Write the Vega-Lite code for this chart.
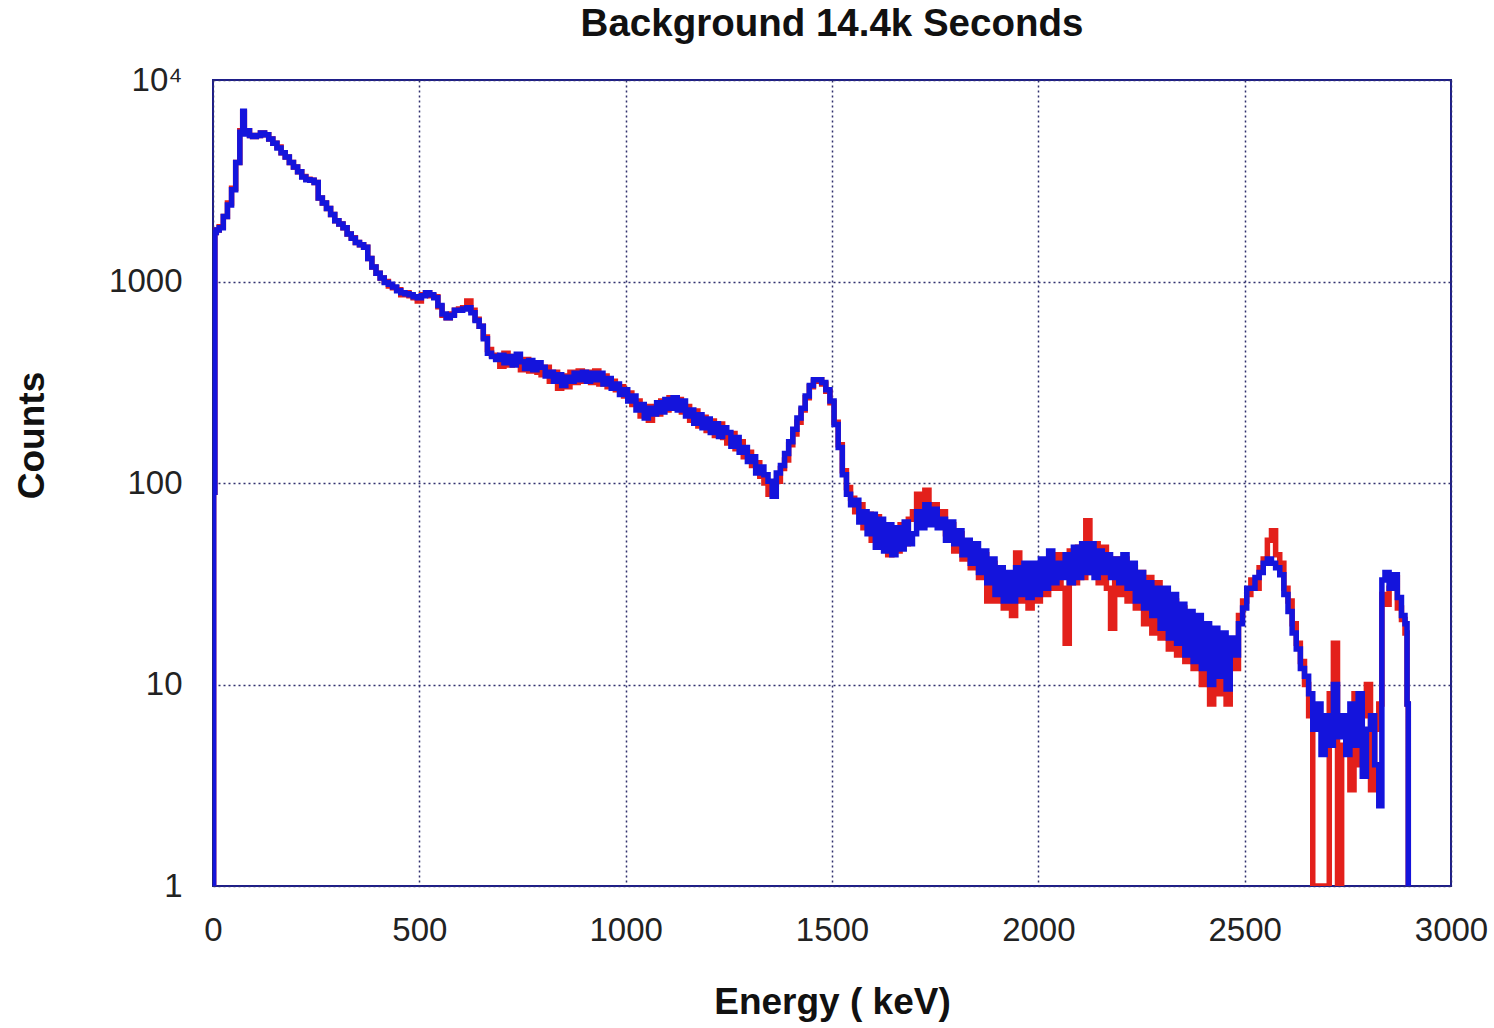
{
  "$schema": "https://vega.github.io/schema/vega-lite/v6.json",
  "width": 1238,
  "height": 806,
  "autosize": {"type": "none"},
  "padding": {"left": 213, "top": 80, "right": 43, "bottom": 142},
  "background": "white",
  "config": {
    "view": {"stroke": "#1c1c8c", "strokeWidth": 2},
    "font": "Liberation Sans"
  },
  "title": {
    "text": "Background 14.4k Seconds",
    "font": "Liberation Sans",
    "fontSize": 38.5,
    "fontWeight": "bold",
    "color": "#111",
    "anchor": "middle",
    "offset": 20
  },
  "data": {"values": [
    {"e":0,"r":1,"b":1},{"e":3,"r":90,"b":90},{"e":6,"r":1750,"b":1750},{"e":10,"r":1800,"b":1800},
    {"e":20,"r":1870,"b":1850},{"e":30,"r":2100,"b":2100},{"e":40,"r":2450,"b":2400},{"e":50,"r":2900,"b":2850},
    {"e":60,"r":3900,"b":3900},{"e":70,"r":5600,"b":5500},{"e":74,"r":6900,"b":7000},{"e":78,"r":5500,"b":5400},
    {"e":85,"r":5600,"b":5600},{"e":92,"r":5300,"b":5300},{"e":100,"r":5250,"b":5250},{"e":110,"r":5300,"b":5300},
    {"e":120,"r":5450,"b":5450},{"e":130,"r":5350,"b":5350},{"e":140,"r":5100,"b":5100},{"e":150,"r":4850,"b":4850},
    {"e":160,"r":4650,"b":4600},{"e":170,"r":4350,"b":4350},{"e":180,"r":4150,"b":4150},{"e":190,"r":3900,"b":3900},
    {"e":200,"r":3700,"b":3700},{"e":210,"r":3500,"b":3500},{"e":220,"r":3320,"b":3300},{"e":230,"r":3220,"b":3200},
    {"e":240,"r":3180,"b":3180},{"e":250,"r":3100,"b":3100},{"e":260,"r":2600,"b":2600},{"e":270,"r":2450,"b":2450},
    {"e":280,"r":2300,"b":2300},{"e":290,"r":2150,"b":2150},{"e":300,"r":2000,"b":2000},{"e":310,"r":1930,"b":1930},
    {"e":320,"r":1850,"b":1850},{"e":330,"r":1720,"b":1720},{"e":340,"r":1650,"b":1640},{"e":350,"r":1560,"b":1560},
    {"e":360,"r":1520,"b":1520},{"e":370,"r":1480,"b":1480},{"e":380,"r":1300,"b":1300},{"e":390,"r":1180,"b":1180},
    {"e":400,"r":1100,"b":1100},{"e":410,"r":1040,"b":1040},{"e":420,"r":1000,"b":990},{"e":430,"r":950,"b":970},
    {"e":440,"r":930,"b":940},{"e":450,"r":910,"b":900},{"e":460,"r":860,"b":880},{"e":470,"r":880,"b":870},
    {"e":480,"r":850,"b":860},{"e":490,"r":830,"b":840},{"e":500,"r":800,"b":830},{"e":510,"r":860,"b":850},
    {"e":520,"r":880,"b":880},{"e":530,"r":850,"b":860},{"e":540,"r":840,"b":830},{"e":550,"r":750,"b":760},
    {"e":560,"r":680,"b":690},{"e":570,"r":660,"b":660},{"e":580,"r":690,"b":680},{"e":590,"r":720,"b":720},
    {"e":600,"r":730,"b":720},{"e":610,"r":740,"b":730},{"e":620,"r":800,"b":740},{"e":630,"r":720,"b":700},
    {"e":640,"r":650,"b":640},{"e":650,"r":600,"b":600},{"e":660,"r":530,"b":520},{"e":670,"r":460,"b":440},
    {"e":680,"r":430,"b":425},{"e":690,"r":415,"b":410},
    {"e":700,"r":380,"b":430},{"e":710,"r":440,"b":395},{"e":720,"r":385,"b":425},{"e":730,"r":425,"b":385},
    {"e":740,"r":400,"b":435},{"e":750,"r":365,"b":400},{"e":760,"r":410,"b":370},{"e":770,"r":360,"b":405},
    {"e":780,"r":395,"b":365},{"e":790,"r":355,"b":395},{"e":800,"r":345,"b":375},{"e":810,"r":375,"b":340},
    {"e":820,"r":320,"b":355},{"e":830,"r":355,"b":320},{"e":840,"r":295,"b":345},{"e":850,"r":340,"b":305},
    {"e":860,"r":300,"b":335},{"e":870,"r":355,"b":320},{"e":880,"r":315,"b":350},{"e":890,"r":360,"b":325},
    {"e":900,"r":320,"b":355},{"e":910,"r":355,"b":320},{"e":920,"r":315,"b":350},{"e":930,"r":360,"b":325},
    {"e":940,"r":310,"b":350},{"e":950,"r":340,"b":310},{"e":960,"r":300,"b":330},{"e":970,"r":320,"b":295},
    {"e":980,"r":290,"b":310},{"e":990,"r":300,"b":275},{"e":1000,"r":270,"b":290},{"e":1010,"r":280,"b":255},
    {"e":1020,"r":245,"b":270},{"e":1030,"r":255,"b":230},{"e":1040,"r":215,"b":245},{"e":1050,"r":240,"b":210},
    {"e":1060,"r":205,"b":235},{"e":1070,"r":240,"b":220},{"e":1080,"r":220,"b":250},{"e":1090,"r":255,"b":225},
    {"e":1100,"r":230,"b":260},{"e":1110,"r":265,"b":235},{"e":1120,"r":240,"b":265},{"e":1130,"r":260,"b":230},
    {"e":1140,"r":225,"b":255},{"e":1150,"r":240,"b":215},{"e":1160,"r":205,"b":230},{"e":1170,"r":228,"b":198},
    {"e":1180,"r":192,"b":218},{"e":1190,"r":212,"b":188},{"e":1200,"r":182,"b":208},{"e":1210,"r":203,"b":178},
    {"e":1220,"r":172,"b":197},{"e":1230,"r":196,"b":170},{"e":1240,"r":168,"b":188},{"e":1250,"r":158,"b":178},
    {"e":1260,"r":176,"b":152},{"e":1270,"r":148,"b":168},{"e":1280,"r":160,"b":142},{"e":1290,"r":135,"b":150},
    {"e":1300,"r":142,"b":128},{"e":1310,"r":122,"b":135},{"e":1320,"r":126,"b":112},{"e":1330,"r":108,"b":120},
    {"e":1340,"r":100,"b":110},{"e":1350,"r":88,"b":102},{"e":1360,"r":98,"b":86},{"e":1370,"r":102,"b":112},
    {"e":1380,"r":118,"b":122},{"e":1390,"r":130,"b":140},
    {"e":1400,"r":155,"b":160},{"e":1410,"r":175,"b":185},{"e":1420,"r":200,"b":210},{"e":1430,"r":230,"b":235},
    {"e":1440,"r":265,"b":270},{"e":1450,"r":300,"b":305},{"e":1460,"r":320,"b":325},{"e":1470,"r":325,"b":325},
    {"e":1480,"r":310,"b":315},{"e":1490,"r":285,"b":290},{"e":1500,"r":250,"b":255},{"e":1510,"r":200,"b":195},
    {"e":1520,"r":155,"b":150},{"e":1530,"r":115,"b":110},{"e":1540,"r":95,"b":88},{"e":1550,"r":84,"b":78},
    {"e":1560,"r":72,"b":82},{"e":1570,"r":78,"b":64},{"e":1580,"r":60,"b":72},{"e":1590,"r":70,"b":56},
    {"e":1600,"r":52,"b":70},{"e":1610,"r":68,"b":48},{"e":1620,"r":50,"b":66},{"e":1630,"r":62,"b":46},
    {"e":1640,"r":44,"b":62},{"e":1650,"r":58,"b":44},{"e":1660,"r":46,"b":60},{"e":1670,"r":62,"b":47},
    {"e":1680,"r":50,"b":64},{"e":1690,"r":66,"b":50},{"e":1700,"r":72,"b":56},{"e":1710,"r":88,"b":72},
    {"e":1720,"r":62,"b":60},{"e":1730,"r":92,"b":78},{"e":1740,"r":70,"b":62},{"e":1750,"r":78,"b":74},
    {"e":1760,"r":64,"b":60},{"e":1770,"r":72,"b":66},{"e":1780,"r":56,"b":52},{"e":1790,"r":62,"b":64},
    {"e":1800,"r":46,"b":50},{"e":1810,"r":56,"b":58},{"e":1820,"r":42,"b":44},{"e":1830,"r":50,"b":52},
    {"e":1840,"r":38,"b":40},{"e":1850,"r":46,"b":50},{"e":1860,"r":34,"b":36},{"e":1870,"r":44,"b":46},
    {"e":1880,"r":26,"b":32},{"e":1890,"r":40,"b":42},{"e":1900,"r":26,"b":28},{"e":1910,"r":36,"b":38},
    {"e":1920,"r":24,"b":26},{"e":1930,"r":34,"b":36},{"e":1940,"r":22,"b":26},{"e":1950,"r":45,"b":38},
    {"e":1960,"r":26,"b":28},{"e":1970,"r":38,"b":40},{"e":1980,"r":24,"b":27},{"e":1990,"r":36,"b":40},
    {"e":2000,"r":26,"b":28},{"e":2010,"r":40,"b":42},{"e":2020,"r":28,"b":30},{"e":2030,"r":42,"b":46},
    {"e":2040,"r":30,"b":32},{"e":2050,"r":44,"b":40},{"e":2060,"r":30,"b":34},{"e":2070,"r":16,"b":44},
    {"e":2080,"r":46,"b":32},{"e":2090,"r":32,"b":48},{"e":2100,"r":48,"b":34},{"e":2110,"r":34,"b":50},
    {"e":2120,"r":65,"b":36},{"e":2130,"r":36,"b":50},{"e":2140,"r":50,"b":34},{"e":2150,"r":32,"b":46},
    {"e":2160,"r":48,"b":36},{"e":2170,"r":30,"b":44},{"e":2180,"r":19,"b":34},{"e":2190,"r":42,"b":42},
    {"e":2200,"r":28,"b":32},{"e":2210,"r":42,"b":44},{"e":2220,"r":26,"b":30},{"e":2230,"r":38,"b":40},
    {"e":2240,"r":24,"b":26},{"e":2250,"r":36,"b":36},{"e":2260,"r":20,"b":24},{"e":2270,"r":34,"b":32},
    {"e":2280,"r":18,"b":22},{"e":2290,"r":32,"b":30},{"e":2300,"r":17,"b":19},{"e":2310,"r":28,"b":30},
    {"e":2320,"r":15,"b":17},{"e":2330,"r":26,"b":28},{"e":2340,"r":14,"b":16},{"e":2350,"r":24,"b":25},
    {"e":2360,"r":13,"b":14},{"e":2370,"r":22,"b":23},{"e":2380,"r":12,"b":13},{"e":2390,"r":20,"b":22},
    {"e":2400,"r":10,"b":12},{"e":2410,"r":19,"b":20},{"e":2420,"r":8,"b":10},{"e":2430,"r":17,"b":19},
    {"e":2440,"r":9,"b":11},{"e":2450,"r":16,"b":18},{"e":2460,"r":8,"b":9.5},{"e":2470,"r":15,"b":17},
    {"e":2480,"r":12,"b":14},{"e":2490,"r":22,"b":20},{"e":2500,"r":26,"b":24},{"e":2510,"r":28,"b":30},
    {"e":2520,"r":33,"b":30},{"e":2530,"r":30,"b":34},{"e":2540,"r":38,"b":36},{"e":2550,"r":42,"b":40},
    {"e":2560,"r":52,"b":42},{"e":2570,"r":58,"b":40},{"e":2580,"r":44,"b":38},{"e":2590,"r":40,"b":35},
    {"e":2600,"r":30,"b":28},{"e":2610,"r":26,"b":23},{"e":2620,"r":20,"b":18},{"e":2630,"r":16,"b":15},
    {"e":2640,"r":13,"b":12},{"e":2650,"r":10,"b":11},{"e":2660,"r":7,"b":9},{"e":2670,"r":1,"b":6},
    {"e":2680,"r":1,"b":8},{"e":2690,"r":1,"b":4.5},{"e":2700,"r":1,"b":7},{"e":2710,"r":9,"b":5},
    {"e":2720,"r":16,"b":10},{"e":2730,"r":1,"b":5.5},{"e":2740,"r":5,"b":7},{"e":2750,"r":6,"b":4.5},
    {"e":2760,"r":3,"b":8},{"e":2770,"r":9,"b":5},{"e":2780,"r":4,"b":9},{"e":2790,"r":7,"b":3.5},
    {"e":2800,"r":10,"b":6},{"e":2810,"r":3,"b":7},{"e":2820,"r":6,"b":4},{"e":2830,"r":8,"b":2.5},
    {"e":2835,"r":28,"b":33},{"e":2845,"r":25,"b":36},{"e":2855,"r":30,"b":30},{"e":2865,"r":34,"b":35},
    {"e":2875,"r":24,"b":27},{"e":2885,"r":21,"b":22},{"e":2892,"r":18,"b":20},{"e":2895,"r":8,"b":8},
    {"e":2898,"r":1,"b":1}
  ]},
  "layer": [
    {
      "mark": {"type": "line", "color": "#e3201b", "strokeWidth": 5.5, "interpolate": "step", "clip": true},
      "encoding": {
        "x": {
          "field": "e", "type": "quantitative",
          "scale": {"domain": [0, 3000], "nice": false, "zero": false},
          "axis": {
            "values": [0, 500, 1000, 1500, 2000, 2500, 3000],
            "format": "d",
            "title": "Energy ( keV)",
            "titleFont": "Liberation Sans", "titleFontSize": 37, "titleFontWeight": "bold", "titleColor": "#111",
            "titleY": 116, "titleBaseline": "middle",
            "labelFont": "Liberation Sans", "labelFontSize": 33, "labelColor": "#222",
            "labelPadding": 28, "ticks": false, "domain": false,
            "grid": true, "gridColor": "#30306e", "gridDash": [2, 3], "gridWidth": 1.5,
            "labelFlush": false
          }
        },
        "y": {
          "field": "r", "type": "quantitative",
          "scale": {"type": "log", "domain": [1, 10000], "nice": false},
          "axis": {
            "values": [1, 10, 100, 1000, 10000],
            "labelExpr": "datum.value == 10000 ? '10⁴' : format(datum.value, 'd')",
            "title": "Counts",
            "titleFont": "Liberation Sans", "titleFontSize": 37, "titleFontWeight": "bold", "titleColor": "#111",
            "titleX": -181, "titleY": 355, "titleAngle": -90, "titleAlign": "center", "titleBaseline": "middle",
            "labelFont": "Liberation Sans", "labelFontSize": 33, "labelColor": "#222",
            "labelPadding": 31, "ticks": false, "domain": false,
            "grid": true, "gridColor": "#30306e", "gridDash": [2, 3], "gridWidth": 1.5,
            "labelFlush": false
          }
        }
      }
    },
    {
      "mark": {"type": "line", "color": "#1414dc", "strokeWidth": 5.5, "interpolate": "step", "clip": true},
      "encoding": {
        "x": {"field": "e", "type": "quantitative"},
        "y": {"field": "b", "type": "quantitative"}
      }
    }
  ]
}
